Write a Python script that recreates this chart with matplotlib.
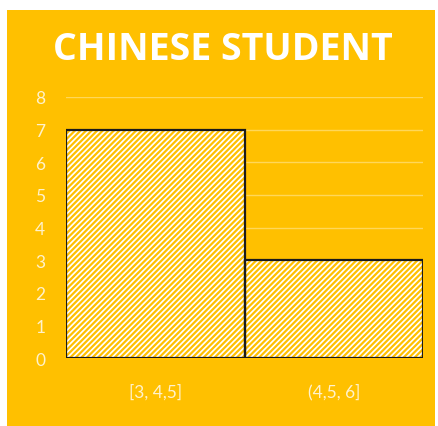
import matplotlib
matplotlib.use("Agg")
import matplotlib.pyplot as plt
from matplotlib.patches import Rectangle

# data
bins = ["[3, 4,5]", "(4,5, 6]"]
counts = [7, 3]
yticks = [0, 1, 2, 3, 4, 5, 6, 7, 8]

gold = "#FFC000"
light = "#FFF2CC"

plt.rcParams['font.family'] = ['Lato', 'DejaVu Sans']
plt.rcParams['hatch.linewidth'] = 1.6

fig = plt.figure(figsize=(4.38, 4.27), dpi=100)
fig.patch.set_facecolor("white")
fig.patches.append(Rectangle((7/438, 0), 428/438, 416/427, transform=fig.transFigure,
                             facecolor=gold, edgecolor="none", zorder=-5))

ax = fig.add_axes([66/438, 1 - 359/427, 357/438, 261/427])
ax.set_facecolor("none")

x = range(len(counts))
# hatch layer, then outline on top
ax.bar(x, counts, width=1.0, color="white", edgecolor=gold, hatch="//////",
       linewidth=0, zorder=2)
ax.bar(x, counts, width=1.0, color="none", edgecolor="#1a1a1a", linewidth=1.6, zorder=3)

ax.set_xlim(-0.5, 1.5)
ax.set_ylim(0, 8)
ax.set_yticks(yticks)
ax.set_xticks(list(x))
ax.set_xticklabels(bins)
ax.tick_params(axis='both', length=0, labelcolor=light, labelsize=12.5)
ax.tick_params(axis='y', pad=15)
ax.tick_params(axis='x', pad=18)
ax.grid(axis='y', color="#FFD75A", linewidth=1, zorder=1)
ax.set_axisbelow(True)
for s in ax.spines.values():
    s.set_visible(False)

fig.text(223/438, 1 - 50/427, "CHINESE STUDENT", color="white", fontsize=27,
         fontweight="bold", ha="center", va="center", family=["Open Sans", "DejaVu Sans"])

fig.savefig("out.png", dpi=100)
